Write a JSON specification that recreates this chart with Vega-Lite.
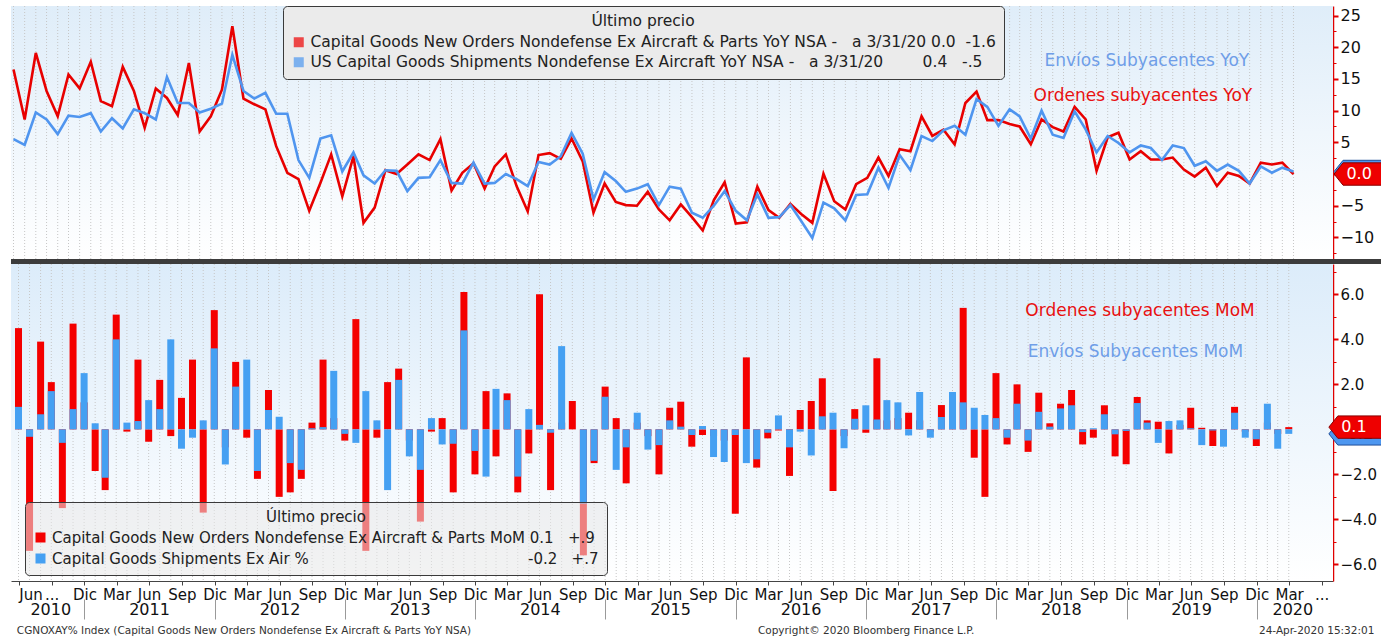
{
  "$schema": "https://vega.github.io/schema/vega-lite/v6.json",
  "padding": {"left": 8, "top": 5, "right": 0, "bottom": 0},
  "background": "white",
  "spacing": -2,
  "config": {
    "font": "DejaVu Sans",
    "view": {"stroke": null},
    "axis": {"title": null, "labelFont": "DejaVu Sans"},
    "legend": {"labelFont": "DejaVu Sans", "titleFont": "DejaVu Sans"}
  },
  "resolve": {"scale": {"color": "independent", "x": "independent", "y": "independent"}, "legend": {"color": "independent"}},
  "datasets": {
    "d": [
      {"date": "2010-06-30", "orders_yoy": 16.5, "ships_yoy": 5.5, "orders_mom": 4.5, "ships_mom": 1.0},
      {"date": "2010-07-31", "orders_yoy": 8.6, "ships_yoy": 4.6, "orders_mom": -5.4, "ships_mom": -0.33},
      {"date": "2010-08-31", "orders_yoy": 19.1, "ships_yoy": 9.7, "orders_mom": 3.9, "ships_mom": 0.67},
      {"date": "2010-09-30", "orders_yoy": 13.1, "ships_yoy": 8.6, "orders_mom": 2.1, "ships_mom": 1.7},
      {"date": "2010-10-31", "orders_yoy": 9.1, "ships_yoy": 6.3, "orders_mom": -3.5, "ships_mom": -0.6},
      {"date": "2010-11-30", "orders_yoy": 15.7, "ships_yoy": 9.2, "orders_mom": 4.7, "ships_mom": 0.9},
      {"date": "2010-12-31", "orders_yoy": 13.5, "ships_yoy": 9.0, "orders_mom": 1.2, "ships_mom": 2.5},
      {"date": "2011-01-31", "orders_yoy": 17.7, "ships_yoy": 9.6, "orders_mom": -1.85, "ships_mom": 0.27},
      {"date": "2011-02-28", "orders_yoy": 11.5, "ships_yoy": 6.7, "orders_mom": -2.7, "ships_mom": -2.15},
      {"date": "2011-03-31", "orders_yoy": 10.7, "ships_yoy": 8.8, "orders_mom": 5.1, "ships_mom": 4.0},
      {"date": "2011-04-30", "orders_yoy": 16.9, "ships_yoy": 7.2, "orders_mom": -0.1, "ships_mom": 0.3},
      {"date": "2011-05-31", "orders_yoy": 13.1, "ships_yoy": 10.2, "orders_mom": 3.1, "ships_mom": 0.37},
      {"date": "2011-06-30", "orders_yoy": 7.3, "ships_yoy": 9.6, "orders_mom": -0.55, "ships_mom": 1.3},
      {"date": "2011-07-31", "orders_yoy": 13.5, "ships_yoy": 8.6, "orders_mom": 2.2, "ships_mom": 0.9},
      {"date": "2011-08-31", "orders_yoy": 12.0, "ships_yoy": 15.3, "orders_mom": -0.3, "ships_mom": 4.0},
      {"date": "2011-09-30", "orders_yoy": 9.3, "ships_yoy": 11.2, "orders_mom": 1.4, "ships_mom": -0.86},
      {"date": "2011-10-31", "orders_yoy": 17.5, "ships_yoy": 11.2, "orders_mom": 3.1, "ships_mom": -0.37},
      {"date": "2011-11-30", "orders_yoy": 6.7, "ships_yoy": 9.7, "orders_mom": -3.7, "ships_mom": 0.4},
      {"date": "2011-12-31", "orders_yoy": 9.1, "ships_yoy": 10.3, "orders_mom": 5.3, "ships_mom": 3.6},
      {"date": "2012-01-31", "orders_yoy": 13.3, "ships_yoy": 11.1, "orders_mom": -0.8, "ships_mom": -1.56},
      {"date": "2012-02-29", "orders_yoy": 23.3, "ships_yoy": 18.8, "orders_mom": 3.0, "ships_mom": 1.9},
      {"date": "2012-03-31", "orders_yoy": 11.9, "ships_yoy": 13.1, "orders_mom": -0.37, "ships_mom": 3.1},
      {"date": "2012-04-30", "orders_yoy": 11.0, "ships_yoy": 11.9, "orders_mom": -2.2, "ships_mom": -1.85},
      {"date": "2012-05-31", "orders_yoy": 10.2, "ships_yoy": 12.8, "orders_mom": 1.75, "ships_mom": 0.86},
      {"date": "2012-06-30", "orders_yoy": 4.4, "ships_yoy": 9.5, "orders_mom": -3.0, "ships_mom": 0.56},
      {"date": "2012-07-31", "orders_yoy": 0.2, "ships_yoy": 9.5, "orders_mom": -2.8, "ships_mom": -1.5},
      {"date": "2012-08-31", "orders_yoy": -0.8, "ships_yoy": 2.2, "orders_mom": -2.2, "ships_mom": -1.8},
      {"date": "2012-09-30", "orders_yoy": -5.8, "ships_yoy": -0.6, "orders_mom": 0.3, "ships_mom": 0.05},
      {"date": "2012-10-31", "orders_yoy": -1.4, "ships_yoy": 5.6, "orders_mom": 3.1, "ships_mom": 0.1},
      {"date": "2012-11-30", "orders_yoy": 3.1, "ships_yoy": 6.1, "orders_mom": 0.5, "ships_mom": 2.6},
      {"date": "2012-12-31", "orders_yoy": -3.5, "ships_yoy": 0.4, "orders_mom": -0.5, "ships_mom": -0.2},
      {"date": "2013-01-31", "orders_yoy": 2.8, "ships_yoy": 3.4, "orders_mom": 4.9, "ships_mom": -0.6},
      {"date": "2013-02-28", "orders_yoy": -7.7, "ships_yoy": -0.2, "orders_mom": -5.4, "ships_mom": 1.7},
      {"date": "2013-03-31", "orders_yoy": -5.3, "ships_yoy": -1.5, "orders_mom": -0.37, "ships_mom": 0.4},
      {"date": "2013-04-30", "orders_yoy": 0.6, "ships_yoy": 0.6, "orders_mom": 2.1, "ships_mom": -2.7},
      {"date": "2013-05-31", "orders_yoy": 0.0, "ships_yoy": 0.5, "orders_mom": 2.7, "ships_mom": 2.2},
      {"date": "2013-06-30", "orders_yoy": 1.5, "ships_yoy": -2.7, "orders_mom": -0.5, "ships_mom": -1.2},
      {"date": "2013-07-31", "orders_yoy": 3.1, "ships_yoy": -0.6, "orders_mom": -4.1, "ships_mom": -1.8},
      {"date": "2013-08-31", "orders_yoy": 2.2, "ships_yoy": -0.5, "orders_mom": -0.1, "ships_mom": 0.5},
      {"date": "2013-09-30", "orders_yoy": 5.5, "ships_yoy": 2.2, "orders_mom": 0.5, "ships_mom": -0.67},
      {"date": "2013-10-31", "orders_yoy": -2.6, "ships_yoy": -1.4, "orders_mom": -2.8, "ships_mom": -0.64},
      {"date": "2013-11-30", "orders_yoy": 0.2, "ships_yoy": -1.5, "orders_mom": 6.1, "ships_mom": 4.4},
      {"date": "2013-12-31", "orders_yoy": 1.7, "ships_yoy": 1.8, "orders_mom": -2.0, "ships_mom": -0.96},
      {"date": "2014-01-31", "orders_yoy": -2.3, "ships_yoy": -1.5, "orders_mom": 1.7, "ships_mom": -2.1},
      {"date": "2014-02-28", "orders_yoy": 1.2, "ships_yoy": -1.4, "orders_mom": -1.2, "ships_mom": 1.8},
      {"date": "2014-03-31", "orders_yoy": 3.1, "ships_yoy": 0.0, "orders_mom": 1.6, "ships_mom": 1.3},
      {"date": "2014-04-30", "orders_yoy": -1.9, "ships_yoy": -0.8, "orders_mom": -2.8, "ships_mom": -2.1},
      {"date": "2014-05-31", "orders_yoy": -5.9, "ships_yoy": -1.9, "orders_mom": -1.07, "ships_mom": 0.9},
      {"date": "2014-06-30", "orders_yoy": 3.0, "ships_yoy": 1.9, "orders_mom": 6.0, "ships_mom": 0.2},
      {"date": "2014-07-31", "orders_yoy": 3.3, "ships_yoy": 1.5, "orders_mom": -2.7, "ships_mom": -0.15},
      {"date": "2014-08-31", "orders_yoy": 2.4, "ships_yoy": 2.8, "orders_mom": 0.3, "ships_mom": 3.7},
      {"date": "2014-09-30", "orders_yoy": 5.6, "ships_yoy": 6.5, "orders_mom": 1.26, "ships_mom": 0.0},
      {"date": "2014-10-31", "orders_yoy": 2.0, "ships_yoy": 3.2, "orders_mom": -5.6, "ships_mom": -3.3},
      {"date": "2014-11-30", "orders_yoy": -6.1, "ships_yoy": -4.0, "orders_mom": -1.5, "ships_mom": -1.4},
      {"date": "2014-12-31", "orders_yoy": -1.5, "ships_yoy": 0.3, "orders_mom": 1.9, "ships_mom": 1.45},
      {"date": "2015-01-31", "orders_yoy": -4.4, "ships_yoy": -1.1, "orders_mom": 0.5, "ships_mom": -1.8},
      {"date": "2015-02-28", "orders_yoy": -4.9, "ships_yoy": -2.8, "orders_mom": -2.4, "ships_mom": -0.8},
      {"date": "2015-03-31", "orders_yoy": -5.0, "ships_yoy": -2.3, "orders_mom": 0.3, "ships_mom": 0.74},
      {"date": "2015-04-30", "orders_yoy": -2.8, "ships_yoy": -1.6, "orders_mom": -0.3, "ships_mom": -0.9},
      {"date": "2015-05-31", "orders_yoy": -5.6, "ships_yoy": -4.9, "orders_mom": -2.0, "ships_mom": -0.7},
      {"date": "2015-06-30", "orders_yoy": -7.3, "ships_yoy": -2.0, "orders_mom": 0.96, "ships_mom": 0.4},
      {"date": "2015-07-31", "orders_yoy": -4.8, "ships_yoy": -2.3, "orders_mom": 1.23, "ships_mom": 0.12},
      {"date": "2015-08-31", "orders_yoy": -6.8, "ships_yoy": -6.1, "orders_mom": -0.77, "ships_mom": -0.25},
      {"date": "2015-09-30", "orders_yoy": -8.9, "ships_yoy": -6.9, "orders_mom": -0.25, "ships_mom": 0.15},
      {"date": "2015-10-31", "orders_yoy": -4.1, "ships_yoy": -5.0, "orders_mom": -0.3, "ships_mom": -1.23},
      {"date": "2015-11-30", "orders_yoy": -1.3, "ships_yoy": -2.7, "orders_mom": -0.5, "ships_mom": -1.45},
      {"date": "2015-12-31", "orders_yoy": -7.8, "ships_yoy": -5.8, "orders_mom": -3.75, "ships_mom": -0.25},
      {"date": "2016-01-31", "orders_yoy": -7.6, "ships_yoy": -7.3, "orders_mom": 3.2, "ships_mom": -1.5},
      {"date": "2016-02-29", "orders_yoy": -2.0, "ships_yoy": -3.2, "orders_mom": -1.7, "ships_mom": -1.33},
      {"date": "2016-03-31", "orders_yoy": -5.7, "ships_yoy": -6.9, "orders_mom": -0.4, "ships_mom": -0.15},
      {"date": "2016-04-30", "orders_yoy": -6.9, "ships_yoy": -6.8, "orders_mom": -0.05, "ships_mom": 0.62},
      {"date": "2016-05-31", "orders_yoy": -4.7, "ships_yoy": -4.9, "orders_mom": -2.07, "ships_mom": -0.8},
      {"date": "2016-06-30", "orders_yoy": -6.3, "ships_yoy": -7.4, "orders_mom": 0.86, "ships_mom": -0.1},
      {"date": "2016-07-31", "orders_yoy": -7.7, "ships_yoy": -10.1, "orders_mom": 1.26, "ships_mom": -1.16},
      {"date": "2016-08-31", "orders_yoy": 0.05, "ships_yoy": -4.5, "orders_mom": 2.27, "ships_mom": 0.58},
      {"date": "2016-09-30", "orders_yoy": -4.3, "ships_yoy": -5.4, "orders_mom": -2.74, "ships_mom": 0.74},
      {"date": "2016-10-31", "orders_yoy": -5.6, "ships_yoy": -7.3, "orders_mom": -0.3, "ships_mom": -0.84},
      {"date": "2016-11-30", "orders_yoy": -1.6, "ships_yoy": -3.3, "orders_mom": 0.9, "ships_mom": 0.47},
      {"date": "2016-12-31", "orders_yoy": -0.6, "ships_yoy": -3.2, "orders_mom": -0.15, "ships_mom": 1.07},
      {"date": "2017-01-31", "orders_yoy": 2.6, "ships_yoy": 1.0, "orders_mom": 3.16, "ships_mom": 0.44},
      {"date": "2017-02-28", "orders_yoy": -0.3, "ships_yoy": -2.2, "orders_mom": 0.4, "ships_mom": 1.3},
      {"date": "2017-03-31", "orders_yoy": 3.9, "ships_yoy": 3.0, "orders_mom": 0.5, "ships_mom": 1.2},
      {"date": "2017-04-30", "orders_yoy": 3.6, "ships_yoy": 0.6, "orders_mom": 0.74, "ships_mom": -0.27},
      {"date": "2017-05-31", "orders_yoy": 9.1, "ships_yoy": 6.0, "orders_mom": 0.4, "ships_mom": 1.66},
      {"date": "2017-06-30", "orders_yoy": 6.0, "ships_yoy": 5.2, "orders_mom": -0.1, "ships_mom": -0.37},
      {"date": "2017-07-31", "orders_yoy": 7.0, "ships_yoy": 6.9, "orders_mom": 1.08, "ships_mom": 0.55},
      {"date": "2017-08-31", "orders_yoy": 4.7, "ships_yoy": 7.6, "orders_mom": 0.6, "ships_mom": 1.66},
      {"date": "2017-09-30", "orders_yoy": 11.2, "ships_yoy": 6.2, "orders_mom": 5.4, "ships_mom": 1.2},
      {"date": "2017-10-31", "orders_yoy": 13.0, "ships_yoy": 11.8, "orders_mom": -1.26, "ships_mom": 0.96},
      {"date": "2017-11-30", "orders_yoy": 8.5, "ships_yoy": 10.6, "orders_mom": -3.0, "ships_mom": 0.64},
      {"date": "2017-12-31", "orders_yoy": 8.5, "ships_yoy": 7.6, "orders_mom": 2.5, "ships_mom": 0.5},
      {"date": "2018-01-31", "orders_yoy": 7.9, "ships_yoy": 10.2, "orders_mom": -0.67, "ships_mom": -0.37},
      {"date": "2018-02-28", "orders_yoy": 7.5, "ships_yoy": 9.1, "orders_mom": 2.0, "ships_mom": 1.14},
      {"date": "2018-03-31", "orders_yoy": 4.7, "ships_yoy": 5.6, "orders_mom": -1.0, "ships_mom": -0.5},
      {"date": "2018-04-30", "orders_yoy": 8.6, "ships_yoy": 10.0, "orders_mom": 1.63, "ships_mom": 0.78},
      {"date": "2018-05-31", "orders_yoy": 7.4, "ships_yoy": 6.2, "orders_mom": 0.27, "ships_mom": 0.12},
      {"date": "2018-06-30", "orders_yoy": 6.7, "ships_yoy": 5.7, "orders_mom": 1.14, "ships_mom": 0.93},
      {"date": "2018-07-31", "orders_yoy": 10.6, "ships_yoy": 9.9, "orders_mom": 1.75, "ships_mom": 1.07},
      {"date": "2018-08-31", "orders_yoy": 8.6, "ships_yoy": 7.0, "orders_mom": -0.67, "ships_mom": -0.12},
      {"date": "2018-09-30", "orders_yoy": 0.5, "ships_yoy": 3.4, "orders_mom": -0.37, "ships_mom": 0.05},
      {"date": "2018-10-31", "orders_yoy": 5.8, "ships_yoy": 6.0, "orders_mom": 1.07, "ships_mom": 0.67},
      {"date": "2018-11-30", "orders_yoy": 6.5, "ships_yoy": 4.9, "orders_mom": -1.2, "ships_mom": -0.22},
      {"date": "2018-12-31", "orders_yoy": 2.3, "ships_yoy": 3.4, "orders_mom": -1.55, "ships_mom": -0.07},
      {"date": "2019-01-31", "orders_yoy": 3.6, "ships_yoy": 4.5, "orders_mom": 1.44, "ships_mom": 1.17},
      {"date": "2019-02-28", "orders_yoy": 2.3, "ships_yoy": 4.1, "orders_mom": 0.4, "ships_mom": 0.3},
      {"date": "2019-03-31", "orders_yoy": 2.3, "ships_yoy": 2.2, "orders_mom": 0.34, "ships_mom": -0.6},
      {"date": "2019-04-30", "orders_yoy": 2.6, "ships_yoy": 4.5, "orders_mom": -1.07, "ships_mom": 0.37},
      {"date": "2019-05-31", "orders_yoy": 0.7, "ships_yoy": 4.1, "orders_mom": 0.2, "ships_mom": 0.4},
      {"date": "2019-06-30", "orders_yoy": -0.4, "ships_yoy": 1.3, "orders_mom": 0.96, "ships_mom": 0.05},
      {"date": "2019-07-31", "orders_yoy": 1.0, "ships_yoy": 2.0, "orders_mom": 0.07, "ships_mom": -0.7},
      {"date": "2019-08-31", "orders_yoy": -1.9, "ships_yoy": 0.5, "orders_mom": -0.74, "ships_mom": -0.05},
      {"date": "2019-09-30", "orders_yoy": 0.2, "ships_yoy": 1.5, "orders_mom": -0.3, "ships_mom": -0.77},
      {"date": "2019-10-31", "orders_yoy": -0.3, "ships_yoy": 0.5, "orders_mom": 1.0, "ships_mom": 0.74},
      {"date": "2019-11-30", "orders_yoy": -1.5, "ships_yoy": -1.5, "orders_mom": -0.1, "ships_mom": -0.37},
      {"date": "2019-12-31", "orders_yoy": 1.8, "ships_yoy": 1.2, "orders_mom": -0.74, "ships_mom": -0.44},
      {"date": "2020-01-31", "orders_yoy": 1.5, "ships_yoy": 0.2, "orders_mom": 0.3, "ships_mom": 1.14},
      {"date": "2020-02-29", "orders_yoy": 1.8, "ships_yoy": 1.0, "orders_mom": -0.2, "ships_mom": -0.86},
      {"date": "2020-03-31", "orders_yoy": 0.0, "ships_yoy": 0.4, "orders_mom": 0.1, "ships_mom": -0.2}
    ]
  },
  "vconcat": [
    {
      "width": 1322,
      "height": 253,
      "data": {"name": "d"},
      "resolve": {"axis": {"x": "independent", "y": "independent"}},
      "layer": [
        {
          "data": {"values": [{}]},
          "mark": {"type": "rect", "color": {"gradient": "linear", "x1": 0, "y1": 0, "x2": 0, "y2": 1, "stops": [{"offset": 0, "color": "#dfedf9"}, {"offset": 1, "color": "#ffffff"}]}},
          "encoding": {}
        },
        {
          "mark": {"type": "rule", "color": "#c6c6c6", "strokeDash": [1, 2], "strokeWidth": 1},
          "encoding": {
            "x": {"field": "date", "type": "temporal",
              "scale": {"domain": [{"year": 2010, "month": 6, "date": 23}, {"year": 2020, "month": 7, "date": 19}]},
              "axis": null}
          }
        },
        {
          "mark": {"type": "line", "color": "#e80000", "strokeWidth": 2.6},
          "encoding": {
            "x": {"field": "date", "type": "temporal", "axis": null},
            "y": {"field": "orders_yoy", "type": "quantitative",
              "scale": {"domain": [-13.4, 26.5], "nice": false, "zero": false},
              "axis": {"orient": "right", "values": [-10, -5, 0, 5, 10, 15, 20, 25], "domainColor": "#e00000", "domainWidth": 1.5, "tickColor": "#e00000", "tickSize": 5, "tickWidth": 2, "labelFontSize": 16, "labelColor": "#111111", "labelPadding": 2, "grid": true, "gridDash": [2, 2], "gridColor": "#c4c4c4", "title": null}}
          }
        },
        {
          "mark": {"type": "line", "color": "#4f95ef", "strokeWidth": 2.6},
          "encoding": {
            "x": {"field": "date", "type": "temporal", "axis": null},
            "y": {"field": "ships_yoy", "type": "quantitative",
              "axis": {"orient": "right", "values": [-12.5, -7.5, -2.5, 2.5, 7.5, 12.5, 17.5, 22.5], "domain": false, "labels": false, "grid": false, "tickColor": "#e00000", "tickSize": 3, "tickWidth": 1, "title": null}}
          }
        },
        {
          "data": {"values": [{}]},
          "mark": {"type": "rule", "color": "#3c3c3c", "strokeWidth": 5, "clip": false},
          "encoding": {
            "x": {"datum": {"year": 2010, "month": 6, "date": 23}, "type": "temporal", "axis": null},
            "x2": {"datum": {"year": 2020, "month": 12, "date": 8}},
            "y": {"datum": -13.79, "type": "quantitative", "axis": null}
          }
        },
        {
          "transform": [{"filter": "false"}],
          "mark": {"type": "square"},
          "encoding": {
            "color": {"datum": "Capital Goods New Orders Nondefense Ex Aircraft & Parts YoY NSA -\u00a0\u00a0 a 3/31/20 0.0\u00a0\u00a0-1.6", "type": "nominal",
              "scale": {"domain": ["Capital Goods New Orders Nondefense Ex Aircraft & Parts YoY NSA -\u00a0\u00a0 a 3/31/20 0.0\u00a0\u00a0-1.6", "US Capital Goods Shipments Nondefense Ex Aircraft YoY NSA -\u00a0\u00a0 a 3/31/20\u00a0\u00a0\u00a0\u00a0\u00a0\u00a0\u00a0\u00a00.4\u00a0\u00a0\u00a0-.5"], "range": ["#ee0000", "#4d97f0"]},
              "legend": {"orient": "none", "legendX": 272, "legendY": 0, "title": "Último precio", "titleAnchor": "middle", "titleFontSize": 15.5, "titleFontWeight": "normal", "titleColor": "#222222", "titlePadding": 5, "labelFontSize": 15.5, "labelColor": "#222222", "labelLimit": 1000, "symbolType": "square", "symbolSize": 100, "symbolStrokeWidth": 0, "fillColor": "#ebebeb", "strokeColor": "#3a3a3a", "cornerRadius": 4, "padding": 8, "rowPadding": 3}}
          }
        },
        {
          "transform": [{"filter": "false"}],
          "mark": {"type": "square"},
          "encoding": {
            "color": {"datum": "US Capital Goods Shipments Nondefense Ex Aircraft YoY NSA -\u00a0\u00a0 a 3/31/20\u00a0\u00a0\u00a0\u00a0\u00a0\u00a0\u00a0\u00a00.4\u00a0\u00a0\u00a0-.5", "type": "nominal"}
          }
        },
        {
          "data": {"values": [{}]},
          "mark": {"type": "text", "text": "Envíos Subyacentes YoY", "fontSize": 17, "color": "#6f9ee8", "align": "center", "baseline": "middle"},
          "encoding": {
            "x": {"datum": {"year": 2019, "month": 2, "date": 17}, "type": "temporal", "axis": null},
            "y": {"datum": 17.8, "type": "quantitative", "axis": null}
          }
        },
        {
          "data": {"values": [{}]},
          "mark": {"type": "text", "text": "Ordenes subyacentes YoY", "fontSize": 17, "color": "#e81010", "align": "center", "baseline": "middle"},
          "encoding": {
            "x": {"datum": {"year": 2019, "month": 2, "date": 6}, "type": "temporal", "axis": null},
            "y": {"datum": 12.3, "type": "quantitative", "axis": null}
          }
        },
        {
          "transform": [{"filter": "year(datum.date) == 2020 && month(datum.date) == 2"}],
          "mark": {"type": "point", "shape": "M-1,0L-0.68,-0.4L1,-0.4L1,0.4L-0.68,0.4Z", "filled": true, "fill": "#4d97f0", "stroke": "#1f4f9a", "strokeWidth": 1, "opacity": 1, "size": 3136, "clip": false},
          "encoding": {
            "x": {"datum": {"year": 2020, "month": 10, "date": 8}, "type": "temporal", "axis": null},
            "y": {"field": "ships_yoy", "type": "quantitative", "axis": null}
          }
        },
        {
          "transform": [{"filter": "year(datum.date) == 2020 && month(datum.date) == 2"}],
          "mark": {"type": "point", "shape": "M-1,0L-0.68,-0.4L1,-0.4L1,0.4L-0.68,0.4Z", "filled": true, "fill": "#ee0000", "stroke": "#8a0000", "strokeWidth": 1, "opacity": 1, "size": 3136, "clip": false},
          "encoding": {
            "x": {"datum": {"year": 2020, "month": 10, "date": 8}, "type": "temporal", "axis": null},
            "y": {"field": "orders_yoy", "type": "quantitative", "axis": null}
          }
        },
        {
          "transform": [{"filter": "year(datum.date) == 2020 && month(datum.date) == 2"}],
          "mark": {"type": "text", "fontSize": 16, "color": "white", "align": "center", "baseline": "middle", "dx": -3, "clip": false},
          "encoding": {
            "x": {"datum": {"year": 2020, "month": 10, "date": 8}, "type": "temporal", "axis": null},
            "y": {"field": "orders_yoy", "type": "quantitative", "axis": null},
            "text": {"field": "orders_yoy", "type": "quantitative", "format": ".1f"}
          }
        }
      ]
    },
    {
      "width": 1322,
      "height": 317,
      "data": {"name": "d"},
      "resolve": {"axis": {"x": "independent", "y": "independent"}},
      "layer": [
        {
          "data": {"values": [{}]},
          "mark": {"type": "rect", "color": {"gradient": "linear", "x1": 0, "y1": 0, "x2": 0, "y2": 1, "stops": [{"offset": 0, "color": "#dcecfa"}, {"offset": 1, "color": "#ffffff"}]}},
          "encoding": {}
        },
        {
          "mark": {"type": "rule", "color": "#c6c6c6", "strokeDash": [1, 2], "strokeWidth": 1},
          "encoding": {
            "x": {"field": "date", "type": "temporal",
              "scale": {"domain": [{"year": 2010, "month": 6, "date": 23}, {"year": 2020, "month": 7, "date": 19}]},
              "axis": {"orient": "bottom", "tickCount": {"interval": "year", "step": 1}, "offset": 18, "domain": false, "labels": false, "grid": false, "ticks": true, "tickSize": 20, "tickColor": "#9a9a9a", "tickWidth": 1, "title": null}}
          }
        },
        {
          "mark": {"type": "bar", "size": 7},
          "encoding": {
            "x": {"field": "date", "type": "temporal",
              "axis": {"orient": "bottom", "tickCount": {"interval": "month", "step": 3}, "labelExpr": "(year(datum.value) == 2010 && month(datum.value) == 9) || (year(datum.value) == 2020 && month(datum.value) == 6) ? '...' : ['Dic','','','Mar','','','Jun','','','Sep','',''][month(datum.value)]", "labelFlush": 10, "labelOverlap": false, "labelFontSize": 15, "labelColor": "#111111", "labelPadding": 2, "domain": true, "domainColor": "#444444", "domainWidth": 1, "ticks": true, "tickSize": 4, "tickColor": "#444444", "grid": false, "title": null}},
            "y": {"field": "orders_mom", "type": "quantitative", "stack": null,
              "scale": {"domain": [-6.74, 7.35], "nice": false, "zero": false},
              "axis": {"orient": "right", "values": [-6, -4, -2, 0, 2, 4, 6], "format": ".1f", "domainColor": "#e00000", "domainWidth": 1.5, "tickColor": "#e00000", "tickSize": 5, "tickWidth": 2, "labelFontSize": 15, "labelColor": "#111111", "labelPadding": 2, "grid": true, "gridDash": [2, 2], "gridColor": "#c4c4c4", "title": null}},
            "color": {"datum": "Capital Goods New Orders Nondefense Ex Aircraft & Parts MoM 0.1\u00a0\u00a0\u00a0+.9", "type": "nominal",
              "scale": {"domain": ["Capital Goods New Orders Nondefense Ex Aircraft & Parts MoM 0.1\u00a0\u00a0\u00a0+.9", "Capital Goods Shipments Ex Air %\u00a0\u00a0\u00a0\u00a0\u00a0\u00a0\u00a0\u00a0\u00a0\u00a0\u00a0\u00a0\u00a0\u00a0\u00a0\u00a0\u00a0\u00a0\u00a0\u00a0\u00a0\u00a0\u00a0\u00a0\u00a0\u00a0\u00a0\u00a0\u00a0\u00a0\u00a0\u00a0\u00a0\u00a0\u00a0\u00a0\u00a0\u00a0\u00a0\u00a0\u00a0\u00a0\u00a0\u00a0\u00a0\u00a0-0.2\u00a0\u00a0\u00a0+.7"], "range": ["#f40000", "#45a0f2"]},
              "legend": {"orient": "none", "legendX": 14, "legendY": 238, "title": "Último precio", "titleAnchor": "middle", "titleFontSize": 15, "titleFontWeight": "normal", "titleColor": "#222222", "titlePadding": 5, "labelFontSize": 15, "labelColor": "#222222", "labelLimit": 1000, "symbolType": "square", "symbolSize": 100, "symbolStrokeWidth": 0, "fillColor": "rgba(232,232,232,0.55)", "strokeColor": "#3a3a3a", "cornerRadius": 4, "padding": 8, "rowPadding": 5}}
          }
        },
        {
          "mark": {"type": "bar", "size": 7},
          "encoding": {
            "x": {"field": "date", "type": "temporal",
              "axis": {"orient": "bottom", "values": [{"year": 2010, "month": 9, "date": 27}, {"year": 2011, "month": 7, "date": 1}, {"year": 2012, "month": 7, "date": 1}, {"year": 2013, "month": 7, "date": 1}, {"year": 2014, "month": 7, "date": 1}, {"year": 2015, "month": 7, "date": 1}, {"year": 2016, "month": 7, "date": 1}, {"year": 2017, "month": 7, "date": 1}, {"year": 2018, "month": 7, "date": 1}, {"year": 2019, "month": 7, "date": 1}, {"year": 2020, "month": 4, "date": 10}], "labelExpr": "timeFormat(datum.value, '%Y')", "offset": 18, "domain": false, "ticks": false, "grid": false, "labelFlush": false, "labelOverlap": false, "labelFontSize": 16, "labelColor": "#111111", "labelPadding": 2, "title": null}},
            "y": {"field": "ships_mom", "type": "quantitative", "stack": null,
              "axis": {"orient": "right", "values": [-7, -5, -3, -1, 1, 3, 5, 7], "domain": false, "labels": false, "grid": false, "tickColor": "#e00000", "tickSize": 3, "tickWidth": 1, "title": null}},
            "color": {"datum": "Capital Goods Shipments Ex Air %\u00a0\u00a0\u00a0\u00a0\u00a0\u00a0\u00a0\u00a0\u00a0\u00a0\u00a0\u00a0\u00a0\u00a0\u00a0\u00a0\u00a0\u00a0\u00a0\u00a0\u00a0\u00a0\u00a0\u00a0\u00a0\u00a0\u00a0\u00a0\u00a0\u00a0\u00a0\u00a0\u00a0\u00a0\u00a0\u00a0\u00a0\u00a0\u00a0\u00a0\u00a0\u00a0\u00a0\u00a0\u00a0\u00a0-0.2\u00a0\u00a0\u00a0+.7", "type": "nominal"}
          }
        },
        {
          "data": {"values": [{}]},
          "mark": {"type": "text", "text": "Ordenes subyacentes MoM", "fontSize": 17, "color": "#e81010", "align": "center", "baseline": "middle"},
          "encoding": {
            "x": {"datum": {"year": 2019, "month": 2, "date": 8}, "type": "temporal",
              "axis": {"orient": "bottom", "values": [{"year": 2010, "month": 6, "date": 24}, {"year": 2016, "month": 3, "date": 2}, {"year": 2020, "month": 1, "date": 6}], "labelExpr": "year(datum.value) == 2010 ? 'CGNOXAY% Index (Capital Goods New Orders Nondefense Ex Aircraft & Parts YoY NSA)' : (year(datum.value) == 2016 ? 'Copyright© 2020 Bloomberg Finance L.P.' : '24-Apr-2020 15:32:01')", "labelAlign": "left", "offset": 43, "domain": false, "ticks": false, "grid": false, "labelFlush": false, "labelOverlap": false, "labelFontSize": 10.5, "labelColor": "#333333", "labelPadding": 1, "labelLimit": 1000, "title": null}},
            "y": {"datum": 5.26, "type": "quantitative", "axis": null}
          }
        },
        {
          "data": {"values": [{}]},
          "mark": {"type": "text", "text": "Envíos Subyacentes MoM", "fontSize": 17, "color": "#6f9ee8", "align": "center", "baseline": "middle"},
          "encoding": {
            "x": {"datum": {"year": 2019, "month": 1, "date": 26}, "type": "temporal", "axis": null},
            "y": {"datum": 3.44, "type": "quantitative", "axis": null}
          }
        },
        {
          "transform": [{"filter": "year(datum.date) == 2020 && month(datum.date) == 2"}],
          "mark": {"type": "point", "shape": "M-1,0L-0.68,-0.4L1,-0.4L1,0.4L-0.68,0.4Z", "filled": true, "fill": "#4d97f0", "stroke": "#1f4f9a", "strokeWidth": 1, "opacity": 1, "size": 3136, "clip": false},
          "encoding": {
            "x": {"datum": {"year": 2020, "month": 10, "date": 8}, "type": "temporal", "axis": null},
            "y": {"field": "ships_mom", "type": "quantitative", "axis": null}
          }
        },
        {
          "transform": [{"filter": "year(datum.date) == 2020 && month(datum.date) == 2"}],
          "mark": {"type": "text", "fontSize": 16, "color": "#1a2a55", "align": "center", "baseline": "middle", "dx": -3, "clip": false},
          "encoding": {
            "x": {"datum": {"year": 2020, "month": 10, "date": 8}, "type": "temporal", "axis": null},
            "y": {"field": "ships_mom", "type": "quantitative", "axis": null},
            "text": {"field": "ships_mom", "type": "quantitative", "format": ".1f"}
          }
        },
        {
          "transform": [{"filter": "year(datum.date) == 2020 && month(datum.date) == 2"}],
          "mark": {"type": "point", "shape": "M-1,0L-0.68,-0.4L1,-0.4L1,0.4L-0.68,0.4Z", "filled": true, "fill": "#ee0000", "stroke": "#8a0000", "strokeWidth": 1, "opacity": 1, "size": 3136, "clip": false},
          "encoding": {
            "x": {"datum": {"year": 2020, "month": 10, "date": 8}, "type": "temporal", "axis": null},
            "y": {"field": "orders_mom", "type": "quantitative", "axis": null}
          }
        },
        {
          "transform": [{"filter": "year(datum.date) == 2020 && month(datum.date) == 2"}],
          "mark": {"type": "text", "fontSize": 16, "color": "white", "align": "center", "baseline": "middle", "dx": -3, "clip": false},
          "encoding": {
            "x": {"datum": {"year": 2020, "month": 10, "date": 8}, "type": "temporal", "axis": null},
            "y": {"field": "orders_mom", "type": "quantitative", "axis": null},
            "text": {"field": "orders_mom", "type": "quantitative", "format": ".1f"}
          }
        }
      ]
    }
  ]
}
